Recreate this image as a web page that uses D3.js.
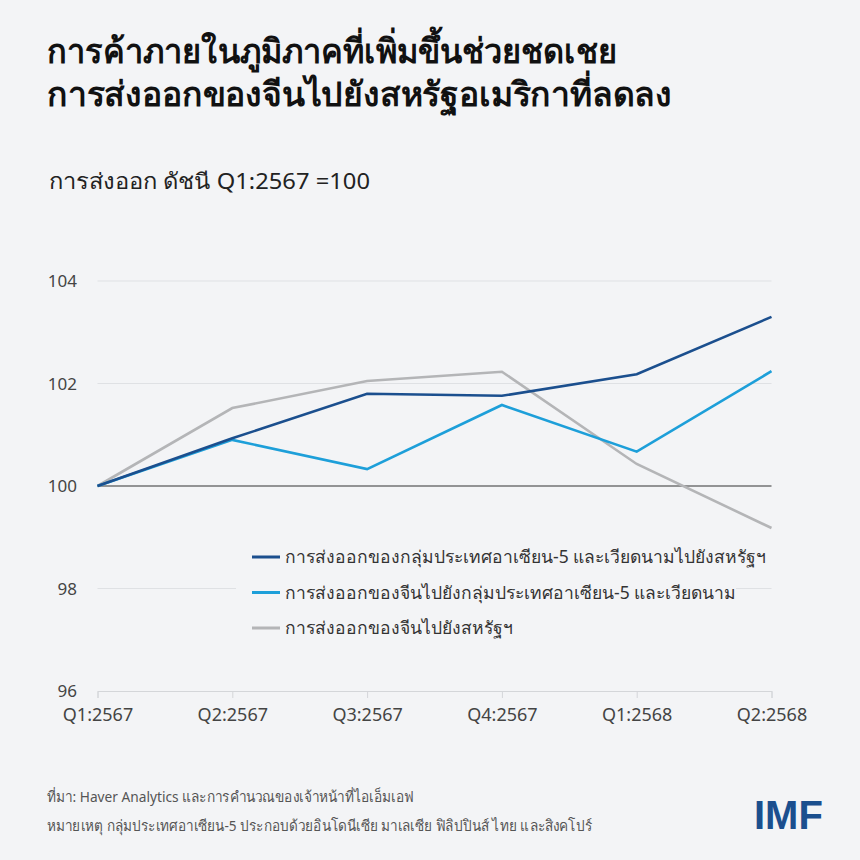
<!DOCTYPE html>
<html>
<head>
<meta charset="utf-8">
<script src="https://cdn.jsdelivr.net/npm/d3@7"></script>
<style>
  body { margin: 0; background: #f3f4f6; }
  svg { display: block; font-family: "Noto Sans", "Open Sans", sans-serif; }
</style>
</head>
<body>
<svg width="860" height="860"></svg>
<script>
const QUARTERS = ['Q1:2567', 'Q2:2567', 'Q3:2567', 'Q4:2567', 'Q1:2568', 'Q2:2568']
const ASEAN_TO_US = [100, 100.93, 101.80, 101.76, 102.18, 103.30]
const CHINA_TO_ASEAN = [100, 100.90, 100.33, 101.58, 100.67, 102.24]
const CHINA_TO_US = [100, 101.52, 102.05, 102.23, 100.43, 99.18]
const Y_TICKS = [96, 98, 100, 102, 104]
const SERIES_NAMES = [
    'การส่งออกของกลุ่มประเทศอาเซียน-5 และเวียดนามไปยังสหรัฐฯ',
    'การส่งออกของจีนไปยังกลุ่มประเทศอาเซียน-5 และเวียดนาม',
    'การส่งออกของจีนไปยังสหรัฐฯ'
]
const COLORS = ['#1b4f8e', '#1d9fd9', '#b4b5b7']

const series = [ASEAN_TO_US, CHINA_TO_ASEAN, CHINA_TO_US].map((values, i) => ({
    name: SERIES_NAMES[i],
    color: COLORS[i],
    values: values.map((v, j) => ({ q: QUARTERS[j], v: v }))
}))

const svg = d3.select('svg')

const xScale = d3.scalePoint().domain(QUARTERS).range([97.5, 771.5]) // categories sit on the ticks
const yScale = d3.scaleLinear().domain([96, 104]).range([691, 281])

// title + subtitle (the original face is condensed, so squeeze to its width)
svg.append('text')
    .attr('x', 47).attr('y', 63)
    .attr('font-size', 34).attr('font-weight', 700).attr('fill', '#111')
    .attr('textLength', 570).attr('lengthAdjust', 'spacingAndGlyphs')
    .text('การค้าภายในภูมิภาคที่เพิ่มขึ้นช่วยชดเชย')
svg.append('text')
    .attr('x', 47).attr('y', 106)
    .attr('font-size', 34).attr('font-weight', 700).attr('fill', '#111')
    .attr('textLength', 625).attr('lengthAdjust', 'spacingAndGlyphs')
    .text('การส่งออกของจีนไปยังสหรัฐอเมริกาที่ลดลง')
svg.append('text')
    .attr('x', 49).attr('y', 189)
    .attr('font-size', 22).attr('fill', '#222')
    .attr('textLength', 321).attr('lengthAdjust', 'spacingAndGlyphs')
    .text('การส่งออก ดัชนี Q1:2567 =100')

// gridlines
const grid = svg.append('g')
grid.selectAll('line')
    .data(Y_TICKS.filter(t => t !== 96))
    .enter()
    .append('line')
    .attr('x1', xScale.range()[0]).attr('x2', xScale.range()[1])
    .attr('y1', d => yScale(d)).attr('y2', d => yScale(d))
    .attr('stroke', d => d === 100 ? '#333' : '#dfe1e4')
    .attr('stroke-width', d => d === 100 ? 1.2 : 1)

// y labels
svg.append('g')
    .selectAll('text')
    .data(Y_TICKS)
    .enter()
    .append('text')
    .attr('x', 77).attr('y', d => yScale(d) + 6)
    .attr('text-anchor', 'end')
    .attr('font-size', 17).attr('fill', '#444')
    .text(d => d)

// x axis
const xAxis = svg.append('g')
    .attr('transform', `translate(0,${yScale(96)})`)
    .call(d3.axisBottom(xScale).tickSize(7).tickPadding(10))
xAxis.select('.domain').attr('stroke', '#d4d6d9')
xAxis.selectAll('.tick line').attr('stroke', '#d4d6d9')
xAxis.selectAll('.tick text')
    .attr('font-size', 18).attr('fill', '#444')
    .attr('font-family', '"Noto Sans", sans-serif')

// legend (its box hides the gridline behind it)
const legend = svg.append('g')
legend.append('rect')
    .attr('x', 236).attr('y', 538).attr('width', 500).attr('height', 102)
    .attr('fill', '#f3f4f6')
const items = legend.selectAll('.item')
    .data(series)
    .enter()
    .append('g')
    .classed('item', true)
    .attr('transform', (d, i) => `translate(252,${557 + i * 35.5})`)
items.append('line')
    .attr('x1', 0).attr('x2', 28)
    .attr('stroke', d => d.color).attr('stroke-width', 3)
items.append('text')
    .attr('x', 33).attr('y', 6)
    .attr('font-size', 17.5).attr('fill', '#333')
    .text(d => d.name)

// lines
const line = d3.line()
    .x(d => xScale(d.q))
    .y(d => yScale(d.v))
svg.append('g')
    .selectAll('path')
    .data(series.slice().reverse())
    .enter()
    .append('path')
    .attr('d', d => line(d.values))
    .attr('fill', 'none')
    .attr('stroke', d => d.color)
    .attr('stroke-width', 2.6)

// footer
svg.append('text')
    .attr('x', 47).attr('y', 802)
    .attr('font-size', 15).attr('fill', '#555')
    .attr('textLength', 367).attr('lengthAdjust', 'spacingAndGlyphs')
    .text('ที่มา: Haver Analytics และการคำนวณของเจ้าหน้าที่ไอเอ็มเอฟ')
svg.append('text')
    .attr('x', 47).attr('y', 831)
    .attr('font-size', 15).attr('fill', '#555')
    .attr('textLength', 545).attr('lengthAdjust', 'spacingAndGlyphs')
    .text('หมายเหตุ กลุ่มประเทศอาเซียน-5 ประกอบด้วยอินโดนีเซีย มาเลเซีย ฟิลิปปินส์ ไทย และสิงคโปร์')
svg.append('text')
    .attr('x', 754).attr('y', 829)
    .attr('font-size', 40).attr('font-weight', 700).attr('fill', '#1b4f8e')
    .attr('font-family', '"Liberation Sans", Arial, sans-serif')
    .text('IMF')
</script>
</body>
</html>
